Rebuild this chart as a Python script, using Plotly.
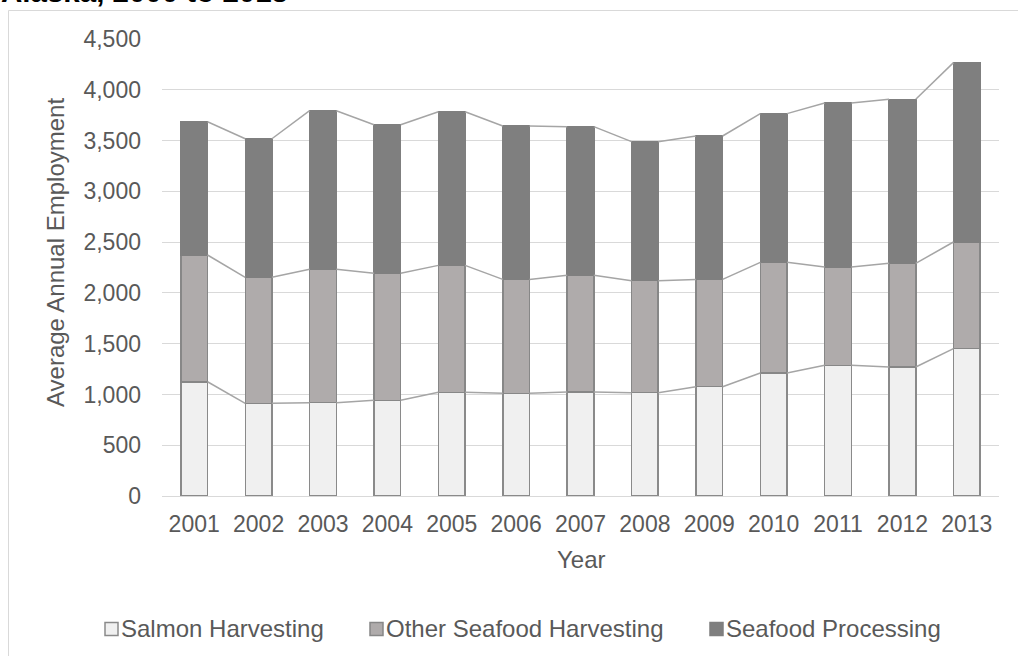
import plotly.graph_objects as go

years = ["2001", "2002", "2003", "2004", "2005", "2006", "2007",
         "2008", "2009", "2010", "2011", "2012", "2013"]
salmon_harvesting = [1125, 913, 919, 942, 1021, 1011, 1024, 1017, 1076, 1211, 1287, 1270, 1451]
other_seafood_harvesting = [1248, 1240, 1313, 1251, 1250, 1122, 1149, 1103, 1057, 1090, 968, 1021, 1050]
seafood_processing = [1312, 1365, 1562, 1463, 1513, 1510, 1464, 1369, 1412, 1464, 1615, 1615, 1766]
y_ticks = [0, 500, 1000, 1500, 2000, 2500, 3000, 3500, 4000, 4500]

W, H = 1018, 656
L, R, T, B = 162, 19, 39, 160
BAR_W = 0.414
TEXT = "#595959"
FONT = "Liberation Sans, Arial, sans-serif"

x = list(range(len(years)))

series = [
    ("Salmon Harvesting", salmon_harvesting, "#f0f0f0", "#8a8a8a"),
    ("Other Seafood Harvesting", other_seafood_harvesting, "#afabab", "#878787"),
    ("Seafood Processing", seafood_processing, "#7f7f7f", "#7f7f7f"),
]

fig = go.Figure()
for name, vals, fill, edge in series:
    fig.add_trace(go.Bar(
        x=x, y=vals, name=name, width=BAR_W, showlegend=False,
        marker=dict(color=fill, line=dict(color=edge, width=1.5)),
    ))

# series lines joining the top of each stacked segment between neighbouring bars
cum = [0] * len(years)
for name, vals, fill, edge in series:
    cum = [c + v for c, v in zip(cum, vals)]
    lx, ly = [], []
    for i in range(len(years) - 1):
        lx += [x[i] + BAR_W / 2, x[i + 1] - BAR_W / 2, None]
        ly += [cum[i], cum[i + 1], None]
    fig.add_trace(go.Scatter(
        x=lx, y=ly, mode="lines", showlegend=False, hoverinfo="skip",
        line=dict(color="#a5a5a5", width=1.5),
    ))

pw = W - L - R
ph = H - T - B


def px_x(p):
    return (p - L) / pw


def px_y(p):
    return (H - B - p) / ph


annotations = [
    dict(text="Average Annual Employment", textangle=-90,
         xref="paper", yref="paper", x=px_x(55), y=px_y(253),
         xanchor="center", yanchor="middle", showarrow=False,
         font=dict(size=24, color=TEXT)),
    dict(text="Year",
         xref="paper", yref="paper", x=px_x(581), y=px_y(559),
         xanchor="center", yanchor="middle", showarrow=False,
         font=dict(size=24, color=TEXT)),
    dict(text="<b>Alaska, 2000 to 2013</b>",
         xref="paper", yref="paper", x=px_x(-1), y=px_y(10),
         xanchor="left", yanchor="bottom", showarrow=False,
         font=dict(size=29.5, color="#000000", family=FONT)),
]
shapes = [
    dict(type="rect", xref="paper", yref="paper",
         x0=px_x(8.5), x1=px_x(W + 20), y0=px_y(H + 20), y1=px_y(10.5),
         line=dict(color="#d9d9d9", width=1), fillcolor="rgba(0,0,0,0)",
         layer="below"),
]

# legend row: a swatch followed by the series name
legend_marker_left = [105, 370, 710]
SW = 13
LEG_Y = 629
for (name, vals, fill, edge), mx in zip(series, legend_marker_left):
    shapes.append(dict(
        type="rect", xref="paper", yref="paper",
        x0=px_x(mx), x1=px_x(mx + SW), y0=px_y(LEG_Y + SW / 2), y1=px_y(LEG_Y - SW / 2),
        fillcolor=fill, line=dict(color=edge, width=1.5),
    ))
    annotations.append(dict(
        text=name, xref="paper", yref="paper", x=px_x(mx + SW + 1), y=px_y(LEG_Y - 1),
        xanchor="left", yanchor="middle", showarrow=False,
        font=dict(size=24, color=TEXT),
    ))

fig.update_layout(
    width=W, height=H,
    margin=dict(l=L, r=R, t=T, b=B, pad=0),
    barmode="stack",
    paper_bgcolor="white", plot_bgcolor="white",
    font=dict(family=FONT, color=TEXT, size=23),
    xaxis=dict(
        tickmode="array", tickvals=x, ticktext=years,
        range=[-0.5, len(years) - 0.5], automargin=False,
        showgrid=False, showline=False, zeroline=False, ticks="",
        ticklabelstandoff=12,
        tickfont=dict(size=23, color=TEXT),
    ),
    yaxis=dict(
        range=[0, 4500], tickvals=y_ticks, tickformat=",d", automargin=False,
        showgrid=True, gridcolor="#d9d9d9", gridwidth=1,
        zeroline=True, zerolinecolor="#d9d9d9", zerolinewidth=1,
        showline=False, ticks="", ticklabelstandoff=20,
        tickfont=dict(size=23, color=TEXT),
    ),
    showlegend=False,
    annotations=annotations,
    shapes=shapes,
)

fig.write_html("out.html")
